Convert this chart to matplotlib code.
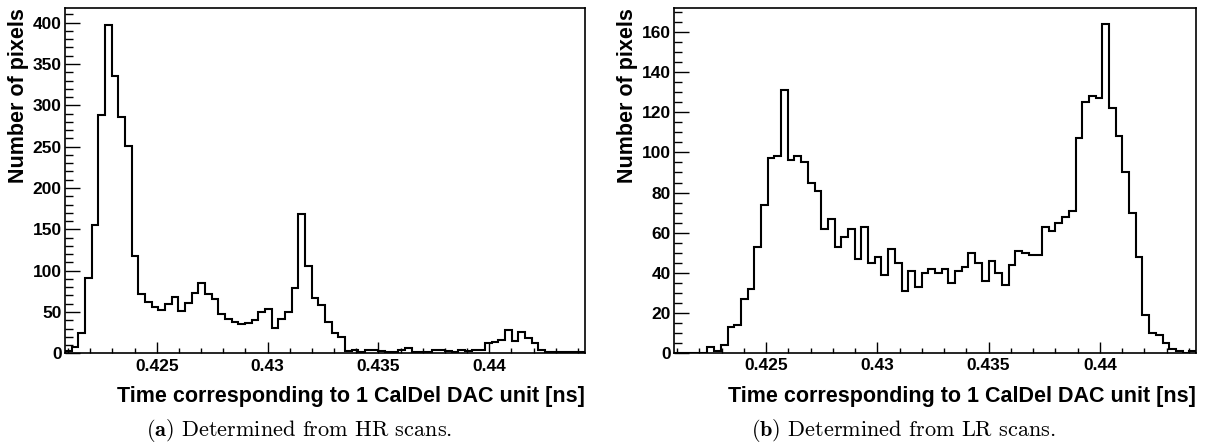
import numpy as np
import matplotlib.pyplot as plt
from matplotlib.ticker import MultipleLocator, FormatStrFormatter

plt.rcParams['font.family'] = ['Liberation Sans', 'DejaVu Sans']
plt.rcParams['font.weight'] = 'bold'
plt.rcParams['mathtext.fontset'] = 'cm'

# ---------- data (78 bins, same range for both panels) ----------
bin_lo, bin_hi, n_bins = 0.42086, 0.44432, 78

hr_counts = [3, 8, 25, 91, 155, 288, 397, 336, 286, 251,
             118, 72, 62, 56, 52, 60, 68, 51, 61, 73,
             85, 72, 66, 48, 41, 38, 36, 37, 40, 50,
             54, 31, 42, 50, 79, 169, 106, 67, 58, 38,
             24, 20, 3, 4, 2, 4, 4, 3, 1, 1,
             4, 7, 1, 2, 2, 4, 4, 3, 2, 4,
             3, 4, 4, 12, 14, 16, 28, 15, 26, 18,
             12, 4, 1, 1, 1, 1, 2, 1]

lr_counts = [0, 0, 0, 0, 0, 3, 1, 4, 13, 14,
             27, 32, 53, 74, 97, 98, 131, 96, 98, 95,
             85, 81, 62, 67, 53, 58, 62, 47, 63, 45,
             48, 39, 52, 45, 31, 41, 33, 40, 42, 40,
             42, 35, 41, 43, 50, 45, 36, 46, 40, 34,
             44, 51, 50, 49, 49, 63, 61, 65, 68, 71,
             107, 125, 128, 127, 164, 122, 108, 90, 70, 48,
             19, 10, 9, 5, 2, 1, 0, 1]

xlabel = "Time corresponding to 1 CalDel DAC unit [ns]"
ylabel = "Number of pixels"
captions = [r"$\mathbf{(a)}$ Determined from HR scans.",
            r"$\mathbf{(b)}$ Determined from LR scans."]

# ---------- figure ----------
W, H = 1207, 444
fig = plt.figure(figsize=(W / 100, H / 100), dpi=100)

# axes boxes in pixels: (left, top, right, bottom)
boxes = [(65, 8.3, 585, 353.3), (674, 8.3, 1196, 352.7)]
ymax = [417.4, 172]
ymaj = [50, 20]
ymin_ = [10, 5]
ylab_x = [19, 628]
cap_x = [299, 903]

edges = np.linspace(bin_lo, bin_hi, n_bins + 1)

for i, counts in enumerate([hr_counts, lr_counts]):
    l, t, r, b = boxes[i]
    ax = fig.add_axes([l / W, 1 - b / H, (r - l) / W, (b - t) / H])
    ax.stairs(counts, edges, baseline=0, color="black", lw=1.5)
    ax.set_xlim(bin_lo, bin_hi)
    ax.set_ylim(0, ymax[i])

    ax.xaxis.set_major_locator(MultipleLocator(0.005))
    ax.xaxis.set_minor_locator(MultipleLocator(0.001))
    ax.xaxis.set_major_formatter(FormatStrFormatter('%g'))
    ax.yaxis.set_major_locator(MultipleLocator(ymaj[i]))
    ax.yaxis.set_minor_locator(MultipleLocator(ymin_[i]))
    ax.tick_params(axis='x', which='major', direction='in', length=7.6, width=1,
                   labelsize=12.5, pad=4)
    ax.tick_params(axis='x', which='minor', direction='in', length=3.6, width=1)
    ax.tick_params(axis='y', which='major', direction='in', length=10.8, width=1,
                   labelsize=12.5, pad=2.5)
    ax.tick_params(axis='y', which='minor', direction='in', length=5.5, width=1)
    for s in ax.spines.values():
        s.set_linewidth(1.2)

    fig.text(r / W, 1 - 396 / H, xlabel, ha='right', va='center',
             fontsize=15.5, fontweight='bold')
    fig.text(ylab_x[i] / W, 1 - t / H, ylabel, ha='center', va='top',
             rotation=90, fontsize=15.5, fontweight='bold')
    fig.text(cap_x[i] / W, 1 - 430 / H, captions[i], ha='center', va='center',
             fontsize=16, family='cmr10', fontweight='normal')

fig.savefig("out.png", dpi=100)
